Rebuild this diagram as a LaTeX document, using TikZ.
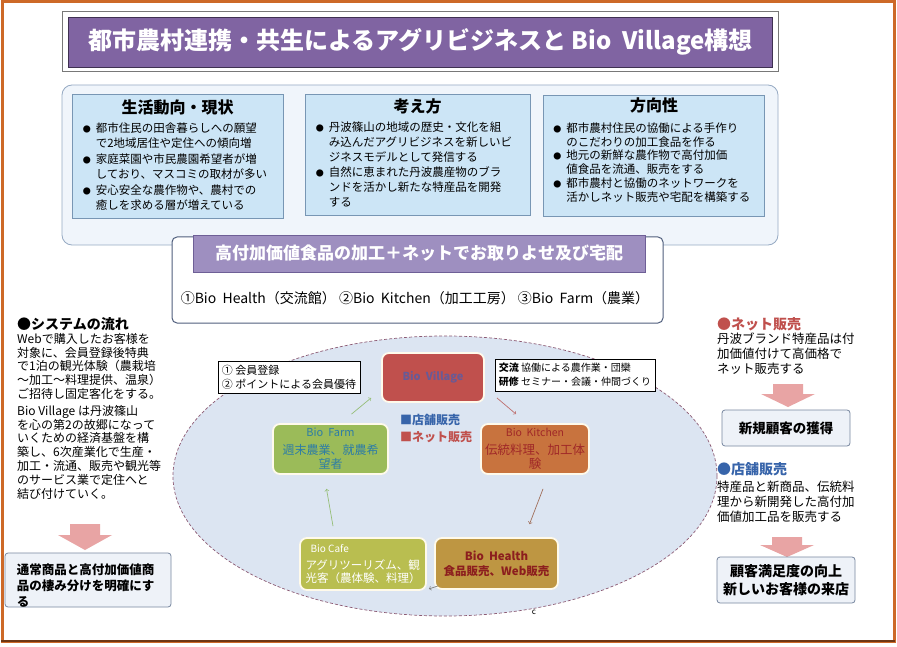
\documentclass[tikz,border=0pt]{standalone}
\usepackage{fontspec}
\setmainfont{Noto Sans CJK JP}
\definecolor{framec}{RGB}{205,105,40}
\definecolor{framedark}{RGB}{110,55,20}
\definecolor{titlepurple}{RGB}{128,100,162}
\definecolor{titledark}{RGB}{63,49,81}
\definecolor{titleedge}{RGB}{120,120,120}
\definecolor{panelfill}{RGB}{240,245,251}
\definecolor{panelline}{RGB}{150,170,195}
\definecolor{boxfill}{RGB}{204,229,246}
\definecolor{boxline}{RGB}{120,150,180}
\definecolor{orderline}{RGB}{80,95,125}
\definecolor{bannerfill}{RGB}{158,143,192}
\definecolor{bannerline}{RGB}{110,95,150}
\definecolor{arrowpink}{RGB}{232,164,164}
\definecolor{resfill}{RGB}{238,242,248}
\definecolor{resline}{RGB}{120,135,160}
\definecolor{ovalfill}{RGB}{220,229,242}
\definecolor{ovalline}{RGB}{140,90,115}
\definecolor{stageedge}{RGB}{255,250,235}
\definecolor{villagered}{RGB}{192,80,77}
\definecolor{villagetext}{RGB}{105,90,150}
\definecolor{kitchenbrown}{RGB}{200,115,62}
\definecolor{kitchentext}{RGB}{160,40,40}
\definecolor{farmgreen}{RGB}{155,187,89}
\definecolor{farmtext}{RGB}{46,125,165}
\definecolor{cafegreen}{RGB}{185,190,80}
\definecolor{healthgold}{RGB}{190,150,66}
\definecolor{healthtext}{RGB}{140,30,30}
\definecolor{netred}{RGB}{192,80,77}
\definecolor{shopblue}{RGB}{55,100,170}
\definecolor{arrowgreen}{RGB}{150,190,120}
\definecolor{arrowred}{RGB}{190,110,110}
\definecolor{arrowbrown}{RGB}{160,110,90}
\newcommand\bul{{\fontsize{8}{8}\selectfont●}}

\begin{document}
\begin{tikzpicture}[x=1pt,y=-1pt,
    inbox/.style={draw=boxline,fill=boxfill,line width=.8pt},
    head/.style={font=\fontsize{16}{18}\selectfont\bfseries},
    lst/.style={anchor=north west,inner sep=0pt,font=\fontsize{11.5}{15.5}\selectfont},
    txt/.style={anchor=north west,inner sep=0pt,align=left,font=\fontsize{12}{13.8}\selectfont},
    resbox/.style={draw=resline,fill=resfill,line width=.8pt,rounded corners=3pt},
    pinkarr/.style={fill=arrowpink},
    stage/.style={draw=stageedge,line width=1.8pt,rounded corners=7pt,align=center,inner sep=1pt},
    callout/.style={draw=black,fill=white,line width=.6pt,align=left,inner sep=4pt},
    flow/.style={->,line width=.7pt}]
    \useasboundingbox (0,0) rectangle (897,647);
    \fill[white] (0,0) rectangle (897,647);
    \draw[framec,line width=3pt] (2,2) rectangle (894,641);
    \draw[framedark,line width=2pt] (1,641) -- (895,641);
    % title
    \draw[titleedge,line width=1pt,fill=white] (62,12) rectangle (778,72);
    \node[fill=titlepurple,draw=titledark,minimum width=704pt,minimum height=50pt,text=white,font=\fontsize{24}{26}\selectfont\bfseries] (title) at (420.5,42) {都市農村連携・共生によるアグリビジネスと\ Bio\ \ Village構想};
    % three boxes
    \draw[panelline,fill=panelfill,rounded corners=10pt,line width=.8pt] (62,85) rectangle (778,245);
    \node[inbox,minimum width=211pt,minimum height=124pt] (trend) at (177.5,156) {};
    \node[inbox,minimum width=225pt,minimum height=121pt] (idea) at (417.5,154.5) {};
    \node[inbox,minimum width=221pt,minimum height=121pt] (aim) at (654,155.5) {};
    \node[head] at ([yshift=-14pt]trend.north) {生活動向・現状};
    \node[head] at ([yshift=-13pt]idea.north) {考え方};
    \node[head] at ([yshift=-11pt]aim.north) {方向性};
    \node[lst] at ([xshift=11pt,yshift=-27.5pt]trend.north west) {\begin{tabular}{@{}c@{\hspace{5pt}}l@{}}
      \bul & 都市住民の田舎暮らしへの願望\\
           & で2地域居住や定住への傾向増\\
      \bul & 家庭菜園や市民農園希望者が増\\
           & しており、マスコミの取材が多い\\
      \bul & 安心安全な農作物や、農村での\\
           & 癒しを求める層が増えている
    \end{tabular}};
    \node[lst,font=\fontsize{11.5}{15}\selectfont] at ([xshift=11pt,yshift=-27.5pt]idea.north west) {\begin{tabular}{@{}c@{\hspace{5pt}}l@{}}
      \bul & 丹波篠山の地域の歴史・文化を組\\
           & み込んだアグリビジネスを新しいビ\\
           & ジネスモデルとして発信する\\
      \bul & 自然に恵まれた丹波農産物のブラ\\
           & ンドを活かし新たな特産品を開発\\
           & する
    \end{tabular}};
    \node[lst,font=\fontsize{11.5}{13.5}\selectfont] at ([xshift=10pt,yshift=-28pt]aim.north west) {\begin{tabular}{@{}c@{\hspace{5pt}}l@{}}
      \bul & 都市農村住民の協働による手作り\\
           & のこだわりの加工食品を作る\\
      \bul & 地元の新鮮な農作物で高付加価\\
           & 値食品を流通、販売をする\\
      \bul & 都市農村と協働のネットワークを\\
           & 活かしネット販売や宅配を構築する
    \end{tabular}};
    % order panel
    \node[draw=orderline,fill=white,rounded corners=5pt,line width=1pt,minimum width=491pt,minimum height=86pt] (order) at (417.5,280) {};
    \node[fill=bannerfill,draw=bannerline,minimum width=452pt,minimum height=37pt,text=white,font=\fontsize{17}{19}\selectfont\bfseries] (banner) at (419,253.5) {高付加価値食品の加工＋ネットでお取りよせ及び宅配};
    \node[font=\fontsize{14}{16}\selectfont] (units) at (415,298) {①Bio\ \ Health（交流館）\ ②Bio\ \ Kitchen（加工工房）\ ③Bio\ \ Farm（農業）};
    % left column
    \node[anchor=west,inner sep=0pt,font=\fontsize{14}{16}\selectfont\bfseries] (flowhead) at (17,324) {●システムの流れ};
    \node[txt] (flowtext) at (17,333) {Webで購入したお客様を\\対象に、会員登録後特典\\で1泊の観光体験（農栽培\\〜加工〜料理提供、温泉）\\ご招待し固定客化をする。\\[3pt]Bio\ Village\ は丹波篠山\\を心の第2の故郷になって\\いくための経済基盤を構\\築し、6次産業化で生産・\\加工・流通、販売や観光等\\のサービス業で定住へと\\結び付けていく。};
    \fill[pinkarr] (70,524) -- (100,524) -- (100,535) -- (112,535) -- (85,550) -- (58,535) -- (70,535) -- cycle;
    \node[resbox,minimum width=166pt,minimum height=54pt] (sortbox) at (88,580) {};
    \node[txt,font=\fontsize{12.5}{16}\selectfont\bfseries] at ([xshift=12pt,yshift=-11pt]sortbox.north west) {通常商品と高付加価値商\\品の棲み分けを明確にす\\る};
    % right column
    \node[anchor=west,inner sep=0pt,text=netred,font=\fontsize{14}{16}\selectfont\bfseries] (nethead) at (717,324) {●ネット販売};
    \node[txt,font=\fontsize{12.5}{15}\selectfont] (nettext) at (717,333) {丹波ブランド特産品は付\\加価値付けて高価格で\\ネット販売する};
    \fill[pinkarr] (773,384) -- (803,384) -- (803,394) -- (815,394) -- (788,407) -- (761,394) -- (773,394) -- cycle;
    \node[resbox,minimum width=128pt,minimum height=36pt,font=\fontsize{13.5}{16}\selectfont\bfseries] (newcust) at (786,428) {新規顧客の獲得};
    \node[anchor=west,inner sep=0pt,text=shopblue,font=\fontsize{14}{16}\selectfont\bfseries] (shophead) at (717,469) {●店舗販売};
    \node[txt,font=\fontsize{12.5}{15}\selectfont] (shoptext) at (717,481) {特産品と新商品、伝統料\\理から新開発した高付加\\価値加工品を販売する};
    \fill[pinkarr] (772,537) -- (802,537) -- (802,545) -- (814,545) -- (787,557) -- (760,545) -- (772,545) -- cycle;
    \node[resbox,minimum width=138pt,minimum height=46pt,align=center,font=\fontsize{14}{18}\selectfont\bfseries] (satisfy) at (786,580) {顧客満足度の向上\\新しいお客様の来店};
    % village cycle
    \draw[fill=ovalfill,draw=ovalline,densely dashed,line width=.7pt] (445,476) ellipse [x radius=272,y radius=140];
    \node[callout,font=\fontsize{11}{14}\selectfont] (member) at (289,377.5) {①\ 会員登録\\②\ ポイントによる会員優待};
    \node[callout,font=\fontsize{10}{14}\selectfont] (exch) at (575,375) {\textbf{交流}\ 協働による農作業・団欒\\\textbf{研修}\ セミナー・会議・仲間づくり};
    \node[stage,fill=villagered,minimum width=102pt,minimum height=49pt,text=villagetext,font=\fontsize{11}{13}\selectfont\bfseries] (village) at (433,377.5) {Bio\ \ Village};
    \node[stage,fill=kitchenbrown,minimum width=108pt,minimum height=50pt,text=kitchentext,font=\fontsize{12.5}{14}\selectfont] (kitchen) at (535,449) {{\fontsize{10.5}{12}\selectfont Bio\ \ Kitchen}\\[4pt]伝統料理、加工体\\験};
    \node[stage,fill=farmgreen,minimum width=115pt,minimum height=50pt,text=farmtext,font=\fontsize{12}{14}\selectfont] (farm) at (330.5,449) {{\fontsize{11}{12}\selectfont Bio\ \ Farm}\\[4pt]週末農業、就農希\\望者};
    \node[anchor=north west,inner sep=0pt,align=left,font=\fontsize{12}{17}\selectfont\bfseries] (legend) at (400,414) {\textcolor{shopblue}{■店舗販売}\\\textcolor{netred}{■ネット販売}};
    \node[stage,fill=cafegreen,minimum width=126pt,minimum height=52pt,text=white,align=left,font=\fontsize{11.5}{13}\selectfont] (cafe) at (363,564) {\hspace*{5pt}{\fontsize{10}{12}\selectfont Bio Cafe}\\[4pt]アグリツーリズム、観\\光客（農体験、料理）};
    \node[stage,fill=healthgold,minimum width=123pt,minimum height=51pt,text=healthtext,font=\fontsize{11.5}{15}\selectfont\bfseries] (health) at (496.5,563.5) {Bio\ \ Health\\食品販売、Web販売};
    \draw[flow,arrowgreen] ([xshift=21pt,yshift=9pt]farm.north) -- ([xshift=-10pt,yshift=5pt]village.south west);
    \draw[flow,arrowred] ([xshift=12pt,yshift=5pt]village.south east) -- ([xshift=-19pt,yshift=9pt]kitchen.north);
    \draw[flow,arrowbrown] ([xshift=8pt,yshift=-14pt]kitchen.south) -- ([xshift=33pt,yshift=13pt]health.north);
    \draw[flow,gray] ([xshift=4pt,yshift=4pt]health.south west) -- ([xshift=2pt,yshift=2pt]cafe.south east);
    \draw[flow,arrowgreen] ([xshift=-30pt,yshift=11pt]cafe.north) -- ([xshift=-4pt,yshift=-14pt]farm.south);
    \node[inner sep=0pt,font=\fontsize{8}{8}\selectfont] (mark) at (534,612) {c};
\end{tikzpicture}
\end{document}
